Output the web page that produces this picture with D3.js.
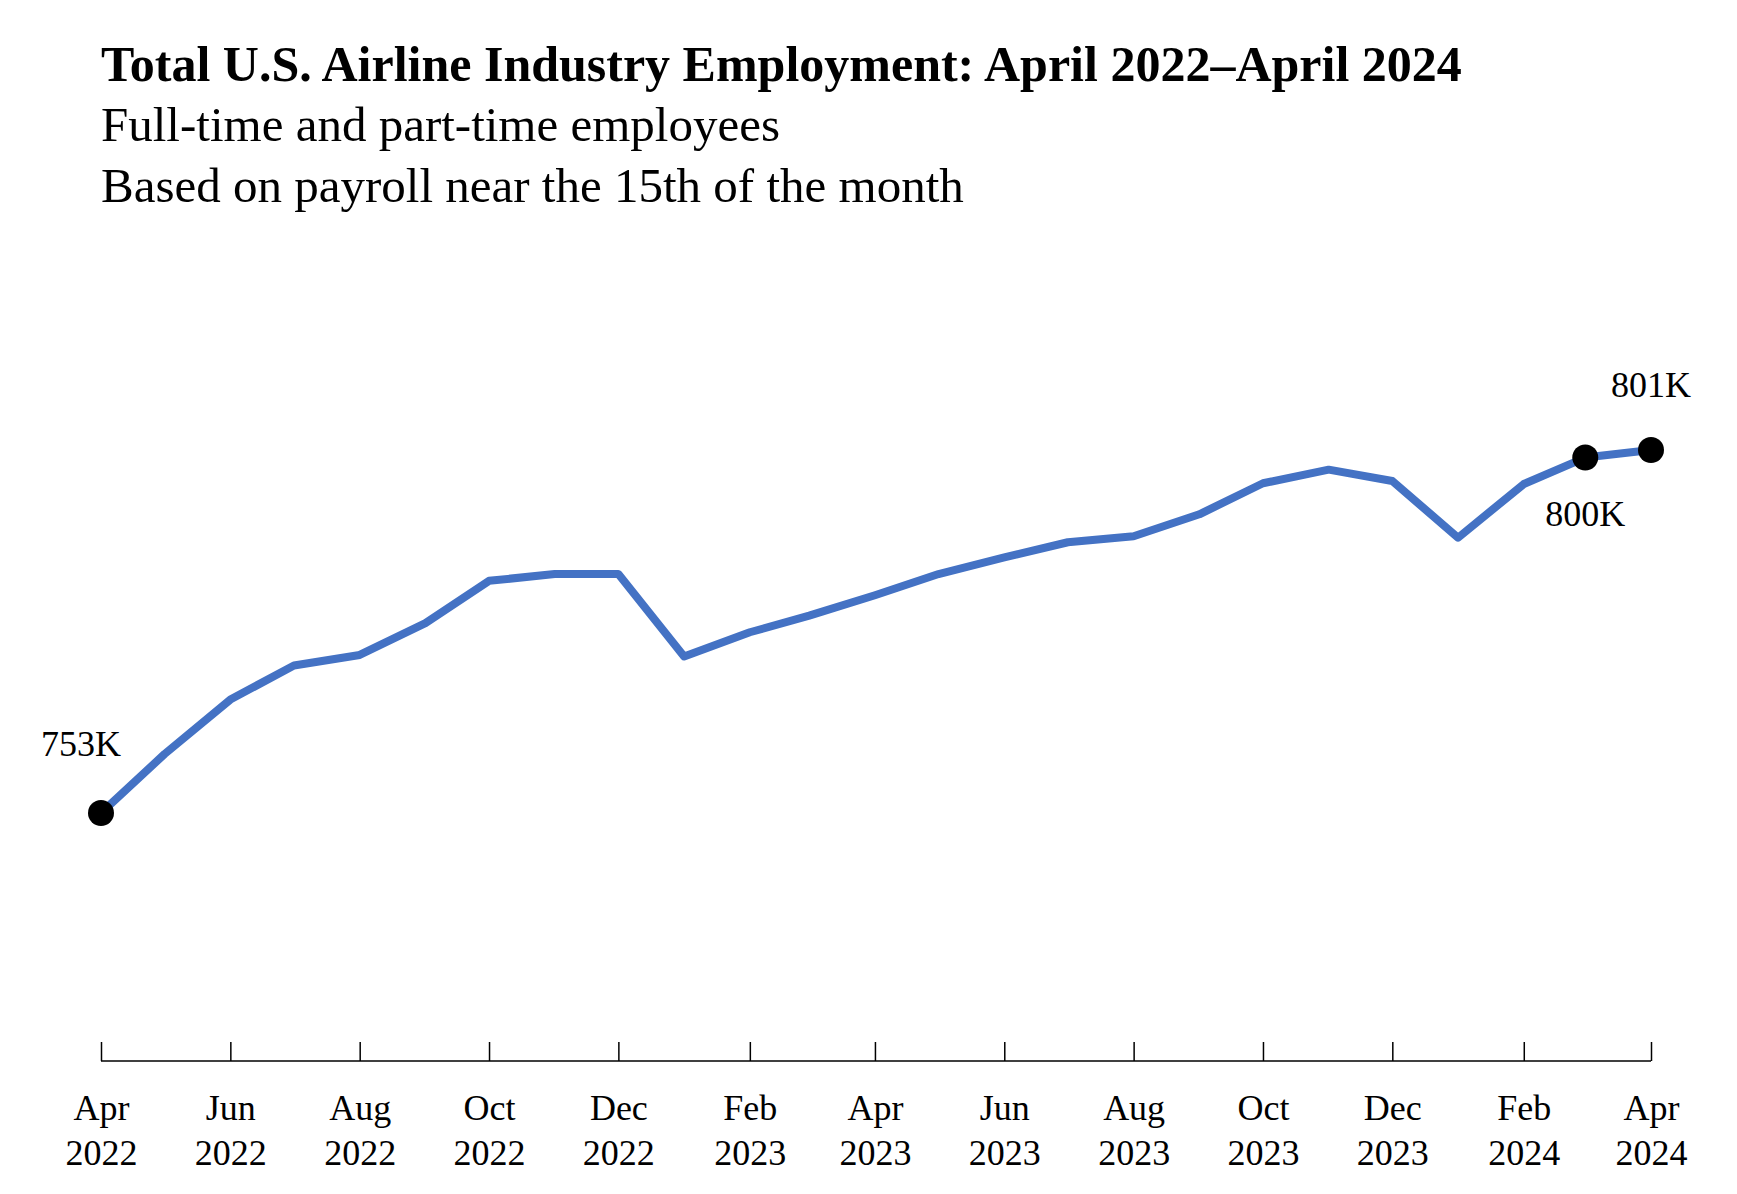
<!DOCTYPE html>
<html><head><meta charset="utf-8">
<script src="https://cdn.jsdelivr.net/npm/d3@7"></script>
<style>body{margin:0;background:#fff}svg{font-family:"Liberation Serif","Times New Roman",serif}</style>
</head><body><svg id="c" width="1737" height="1194"></svg>
<script>
const months = ["2022-04","2022-05","2022-06","2022-07","2022-08","2022-09","2022-10","2022-11","2022-12","2023-01","2023-02","2023-03","2023-04","2023-05","2023-06","2023-07","2023-08","2023-09","2023-10","2023-11","2023-12","2024-01","2024-02","2024-03","2024-04"];
const employment = [753,760.8,768.0,772.5,773.9,778.1,783.7,784.6,784.6,773.7,776.9,779.1,781.8,784.6,786.8,788.8,789.6,792.5,796.6,798.4,796.9,789.4,796.5,800,801];
const tickMonths = ["2022-04","2022-06","2022-08","2022-10","2022-12","2023-02","2023-04","2023-06","2023-08","2023-10","2023-12","2024-02","2024-04"];
const labeled = [{m:"2022-04",t:"753K",dx:-20,dy:-57},{m:"2024-03",t:"800K",dx:0,dy:68},{m:"2024-04",t:"801K",dx:0,dy:-53}];

const svg = d3.select("#c");
const parse = d3.timeParse("%Y-%m");
const data = months.map((m,i)=>({d:parse(m),v:employment[i]}));
const x = d3.scaleTime().domain([parse(months[0]),parse(months[months.length-1])]).range([101,1651]);
const y = d3.scaleLinear().domain([753,801]).range([813,450]);
const fmt = d3.timeFormat("%b");

svg.append("text").attr("x",101).attr("y",81).attr("font-size",50).attr("font-weight","bold").text("Total U.S. Airline Industry Employment: April 2022\u2013April 2024");
svg.append("text").attr("x",101).attr("y",141).attr("font-size",49).text("Full-time and part-time employees");
svg.append("text").attr("x",101).attr("y",202).attr("font-size",49).text("Based on payroll near the 15th of the month");

const ax = svg.append("g").attr("transform","translate(0,1061)")
  .call(d3.axisBottom(x).tickValues(tickMonths.map(parse)).tickSize(-19).tickFormat(""));
ax.select(".domain").attr("stroke","#000").attr("stroke-width",1.5).attr("d","M101,0H1651");
ax.selectAll(".tick line").attr("stroke","#000").attr("stroke-width",1.5);
ax.selectAll(".tick").each(function(d){
  const g=d3.select(this);
  g.append("text").attr("y",59).attr("text-anchor","middle").attr("fill","#000").attr("font-size",36).attr("font-family","Liberation Serif").text(fmt(d));
  g.append("text").attr("y",104).attr("text-anchor","middle").attr("fill","#000").attr("font-size",36).attr("font-family","Liberation Serif").text(d.getFullYear());
});

svg.append("path").datum(data).attr("fill","none").attr("stroke","#4472C4").attr("stroke-width",8).attr("stroke-linejoin","round")
  .attr("d",d3.line().x(d=>x(d.d)).y(d=>y(d.v)));

labeled.forEach(l=>{
  const p=data.find(d=>+d.d===+parse(l.m));
  svg.append("circle").attr("cx",x(p.d)).attr("cy",y(p.v)).attr("r",13).attr("fill","#000");
  svg.append("text").attr("x",x(p.d)+l.dx).attr("y",y(p.v)+l.dy).attr("text-anchor","middle").attr("font-size",36).text(l.t);
});
</script></body></html>
